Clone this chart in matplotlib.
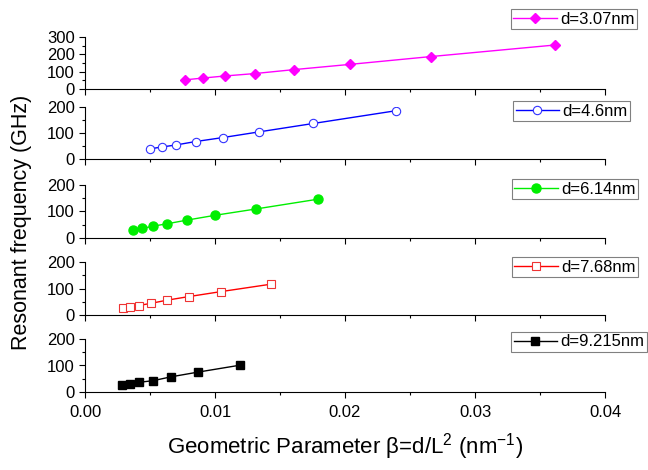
import matplotlib
matplotlib.use('Agg')
import matplotlib.pyplot as plt
from matplotlib.ticker import MultipleLocator

plt.rcParams['font.family'] = ['Liberation Sans', 'DejaVu Sans']
plt.rcParams['mathtext.fontset'] = 'custom'
plt.rcParams['mathtext.rm'] = 'Liberation Sans'

#---------------------------------DATA--------------------
beta_307 = [0.00772, 0.00905, 0.01074, 0.01305, 0.01610, 0.02038, 0.02659, 0.03618]
freq_307 = [53, 63, 75, 89, 112, 142, 187, 254]

beta_46 = [0.00500, 0.00590, 0.00702, 0.00852, 0.01059, 0.01341, 0.01756, 0.02395]
freq_46 = [40, 47, 55, 68, 83, 105, 137, 186]

beta_614 = [0.00372, 0.00438, 0.00526, 0.00633, 0.00787, 0.01000, 0.01315, 0.01790]
freq_614 = [30, 35, 44, 53, 67, 85, 109, 146]

beta_768 = [0.00295, 0.00346, 0.00413, 0.00505, 0.00628, 0.00800, 0.01049, 0.01431]
freq_768 = [28, 31, 36, 44, 56, 70, 89, 117]

beta_9215 = [0.00285, 0.00344, 0.00418, 0.00523, 0.00664, 0.00872, 0.01190]
freq_9215 = [25, 28, 36, 42, 57, 75, 101]

labels = ['d=3.07nm', 'd=4.6nm', 'd=6.14nm', 'd=7.68nm', 'd=9.215nm']

#---------------------------------STYLE--------------------
W, H = 648, 470
styles = [
    dict(color='#ff00ff', marker='D', ms=5.5, mfc='#ff00ff', mec='#ff00ff'),
    dict(color='#0000ff', marker='o', ms=6, mfc='white', mec='#3333ff', mew=0.8),
    dict(color='#00ee00', marker='o', ms=6.5, mfc='#00ee00', mec='#00ee00'),
    dict(color='#ff0000', marker='s', ms=6, mfc='white', mec='#ee3333', mew=0.8),
    dict(color='#000000', marker='s', ms=5.5, mfc='#000000', mec='#000000'),
]
# panel boxes in pixels: (bottom, top)
panel_px = [(89, 37), (159.3, 107), (237.7, 185), (315, 262.3), (391.7, 339.3)]
ylims = [300, 200, 200, 200, 200]
# legend upper-right corners in pixels
legend_px = [(637, 9), (630, 101), (638, 179), (638, 257), (647, 332)]

fig = plt.figure(figsize=(W / 100, H / 100), dpi=100)

all_beta = [beta_307, beta_46, beta_614, beta_768, beta_9215]
all_freq = [freq_307, freq_46, freq_614, freq_768, freq_9215]

left = 85 / W
width = (605 - 85) / W
for i in range(5):
    bot, top = panel_px[i]
    ax = fig.add_axes([left, 1 - bot / H, width, (bot - top) / H])
    ax.plot(all_beta[i], all_freq[i], lw=1.0, label=labels[i], **styles[i])
    ax.set_xlim(0, 0.04)
    ax.set_ylim(0, ylims[i])
    ax.spines['top'].set_visible(False)
    ax.spines['right'].set_visible(False)
    ax.xaxis.set_major_locator(MultipleLocator(0.01))
    ax.xaxis.set_minor_locator(MultipleLocator(0.005))
    ax.yaxis.set_major_locator(MultipleLocator(100))
    ax.yaxis.set_minor_locator(MultipleLocator(50))
    ax.tick_params(which='major', direction='out', length=4.5, width=0.8, labelsize=12, pad=3)
    ax.tick_params(which='minor', direction='out', length=2.5, width=0.8)
    ax.tick_params(axis='x', pad=5)
    ax.patch.set_alpha(0)
    if i < 4:
        ax.tick_params(axis='x', labelbottom=False)
    else:
        ax.xaxis.set_major_formatter(plt.FormatStrFormatter('%.2f'))
    lx, ly = legend_px[i]
    leg = ax.legend(loc='upper right', bbox_to_anchor=(lx / W, 1 - ly / H),
                    bbox_transform=fig.transFigure, borderaxespad=0,
                    fontsize=12, handlelength=2.6, handletextpad=0.2,
                    borderpad=0.15, fancybox=False, framealpha=1)
    leg.get_frame().set_edgecolor('#808080')
    leg.get_frame().set_linewidth(0.8)

fig.text(22 / W, 1 - 222 / H, 'Resonant frequency (GHz)', rotation=90,
         ha='center', va='center', fontsize=15.5)
fig.text(345 / W, 1 - 447 / H, r'Geometric Parameter β=d/L$^{2}$ (nm$^{-1}$)',
         ha='center', va='center', fontsize=16)

fig.savefig('out.png', dpi=100)
